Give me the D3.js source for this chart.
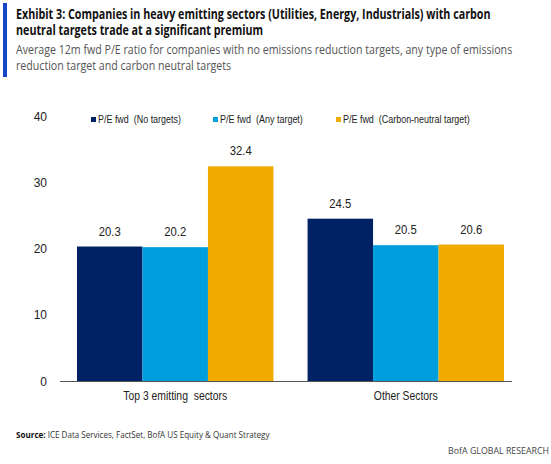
<!DOCTYPE html>
<html><head><meta charset="utf-8">
<script src="https://cdn.jsdelivr.net/npm/d3@7"></script>
<style>body{margin:0;background:#fff}svg{display:block}text{white-space:pre}</style>
</head><body>
<svg id="c" width="551" height="464"></svg>
<script>
const categories = ["Top 3 emitting  sectors", "Other Sectors"];
const seriesNames = ["P/E fwd  (No targets)", "P/E fwd  (Any target)", "P/E fwd  (Carbon-neutral target)"];
const noTargets = [20.3, 24.5];
const anyTarget = [20.2, 20.5];
const carbonNeutral = [32.4, 20.6];
const yTicks = [0, 10, 20, 30, 40];
const colors = ["#002163", "#009EDD", "#F0AA00"];
const titleLines = ["Exhibit 3: Companies in heavy emitting sectors (Utilities, Energy, Industrials) with carbon",
  "neutral targets trade at a significant premium"];
const subtitleLines = ["Average 12m fwd P/E ratio for companies with no emissions reduction targets, any type of emissions",
  "reduction target and carbon neutral targets"];

const svg = d3.select("#c");
const series = [noTargets, anyTarget, carbonNeutral];

// place a text at (x,y) and squeeze it horizontally to a target width via transform
function fit(sel, x, y, target, anchor) {
  sel.attr("text-anchor", anchor || "start");
  const nat = sel.node().getComputedTextLength();
  const s = target / nat;
  sel.attr("transform", `translate(${x},${y}) scale(${s},1)`);
  return sel;
}
// multi-line text block squeezed horizontally so first line reaches target width
function block(lines, x, y, lh, target, attrs) {
  const t = svg.append("text");
  Object.entries(attrs).forEach(([k, v]) => t.attr(k, v));
  const spans = lines.map((l, i) => t.append("tspan").attr("x", 0).attr("y", i * lh).text(l));
  const s = target / spans[0].node().getComputedTextLength();
  t.attr("transform", `translate(${x},${y}) scale(${s},1)`);
  return t;
}

// header
svg.append("rect").attr("x", 3).attr("y", 3).attr("width", 4).attr("height", 74).attr("fill", "#1446C8");
const tFont = "'Open Sans', sans-serif";
block(titleLines, 16, 19, 16.5, 475, {"font-family": tFont, "font-weight": "bold", "font-size": 15, "fill": "#111"});
block(subtitleLines, 16, 54, 16.5, 497, {"font-family": tFont, "font-size": 13, "fill": "#555"});

const cFont = "'Liberation Sans', Arial, sans-serif";
const y = d3.scaleLinear().domain([0, 40]).range([381, 116]);
const x0 = d3.scaleBand().domain(categories).range([62, 519]).paddingInner(0.148).paddingOuter(0.065);
const x1 = d3.scaleBand().domain(d3.range(3)).range([0, x0.bandwidth()]);

// y tick labels
const yAxis = d3.axisLeft(y).tickValues(yTicks).tickSize(0).tickPadding(0);
const ga = svg.append("g").attr("transform", "translate(47,0)").call(yAxis);
ga.select(".domain").remove();
ga.selectAll("text").attr("font-family", cFont).attr("font-size", 12).attr("fill", "#222").attr("dy", "0.35em");

// bars
const g = svg.append("g");
categories.forEach((cat, ci) => {
  series.forEach((s, si) => {
    const xx = x0(cat) + x1(si);
    g.append("rect").attr("x", xx).attr("y", y(s[ci])).attr("width", x1.bandwidth())
      .attr("height", y(0) - y(s[ci])).attr("fill", colors[si]);
    fit(g.append("text").attr("font-family", cFont).attr("font-size", 12).attr("fill", "#222")
      .text(s[ci].toFixed(1)), xx + x1.bandwidth() / 2, y(s[ci]) - 11, 22, "middle");
  });
});

// baseline
svg.append("line").attr("x1", 60).attr("x2", 512).attr("y1", y(0) + 0.5).attr("y2", y(0) + 0.5)
  .attr("stroke", "#555").attr("stroke-width", 1);

// category labels
const catW = [104, 64];
categories.forEach((cat, ci) => {
  fit(svg.append("text").attr("font-family", cFont).attr("font-size", 12).attr("fill", "#222").text(cat),
    x0(cat) + x0.bandwidth() / 2, 400, catW[ci], "middle");
});

// legend
const legX = [91, 213, 336];
const legW = [83, 83, 127];
seriesNames.forEach((n, i) => {
  svg.append("rect").attr("x", legX[i]).attr("y", 117).attr("width", 5).attr("height", 5).attr("fill", colors[i]);
  fit(svg.append("text").attr("font-family", cFont).attr("font-size", 11).attr("fill", "#222").text(n),
    legX[i] + 7, 123, legW[i]);
});

// footer
const src = svg.append("text").attr("font-family", tFont).attr("font-size", 9.5).attr("fill", "#333");
src.append("tspan").attr("font-weight", "bold").attr("fill", "#111").text("Source:");
src.append("tspan").text(" ICE Data Services, FactSet, BofA US Equity & Quant Strategy");
fit(src, 16, 438, 254);
fit(svg.append("text").attr("font-family", tFont).attr("font-size", 9.5).attr("fill", "#444")
  .text("BofA GLOBAL RESEARCH"), 549, 454, 101, "end");
</script>
</body></html>
